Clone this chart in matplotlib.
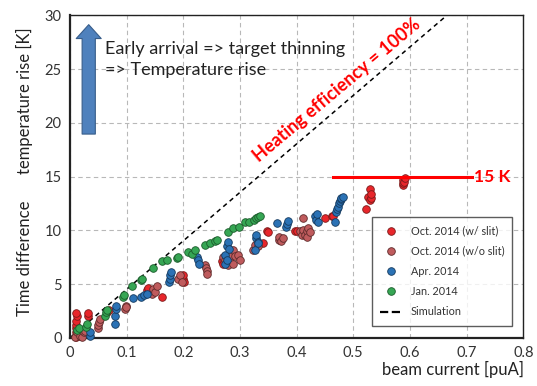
import matplotlib
matplotlib.use("Agg")
import matplotlib.pyplot as plt
from matplotlib.lines import Line2D

plt.rcParams['font.family'] = ['Lato', 'DejaVu Sans']

# Oct. 2014 (w/ slit)
oct_slit_x = [0.010, 0.010, 0.010, 0.010, 0.011, 0.012, 0.011, 0.031, 0.032, 0.066,
              0.068, 0.135, 0.137, 0.162, 0.197, 0.200, 0.201, 0.199, 0.268, 0.270,
              0.341, 0.347, 0.350, 0.397, 0.401, 0.450, 0.463, 0.465, 0.522, 0.526,
              0.529, 0.529, 0.531, 0.532, 0.587, 0.588, 0.588, 0.590, 0.591]
oct_slit_y = [0.1, 0.5, 0.9, 1.2, 1.6, 2.0, 2.3, 2.0, 2.3, 2.4,
              2.6, 4.4, 4.6, 3.8, 5.4, 5.5, 5.2, 5.8, 7.1, 6.9,
              8.8, 9.9, 9.8, 9.9, 9.9, 11.1, 11.3, 11.3, 12.0, 13.1,
              12.8, 13.8, 13.0, 13.4, 14.2, 14.4, 14.7, 14.5, 14.9]

# Oct. 2014 (w/o slit)
oct_noslit_x = [0.009, 0.013, 0.018, 0.021, 0.024, 0.026, 0.050, 0.050, 0.051, 0.053,
                0.097, 0.098, 0.099, 0.144, 0.147, 0.150, 0.153, 0.191, 0.194, 0.197,
                0.238, 0.240, 0.241, 0.242, 0.270, 0.274, 0.279, 0.282, 0.285, 0.288,
                0.288, 0.291, 0.297, 0.300, 0.323, 0.326, 0.332, 0.368, 0.369, 0.372,
                0.376, 0.406, 0.409, 0.412, 0.412, 0.415, 0.418, 0.418, 0.420, 0.424]
oct_noslit_y = [0.1, 0.5, 0.2, 0.1, 0.5, 0.6, 0.9, 1.2, 1.5, 1.7,
                2.7, 3.0, 2.9, 4.1, 4.5, 4.3, 4.8, 5.5, 5.8, 5.2,
                6.8, 6.5, 6.2, 5.9, 7.5, 7.2, 6.8, 7.4, 7.7, 6.9,
                8.2, 7.6, 7.7, 7.2, 8.2, 8.6, 8.5, 9.1, 9.4, 9.0,
                9.3, 9.9, 9.6, 10.0, 11.1, 9.6, 9.9, 9.4, 10.2, 9.8]

# Apr. 2014
apr_x = [0.035, 0.036, 0.079, 0.080, 0.081, 0.082, 0.112, 0.126, 0.131, 0.135,
         0.175, 0.176, 0.177, 0.178, 0.225, 0.226, 0.228, 0.274, 0.274, 0.277,
         0.277, 0.279, 0.281, 0.326, 0.328, 0.329, 0.331, 0.332, 0.365, 0.382,
         0.383, 0.384, 0.433, 0.435, 0.436, 0.438, 0.468, 0.470, 0.471, 0.473,
         0.475, 0.476, 0.478, 0.479, 0.482]
apr_y = [0.2, 0.5, 1.3, 2.0, 2.7, 3.0, 3.7, 3.8, 4.0, 4.1,
         5.2, 5.5, 5.8, 6.1, 7.5, 7.2, 6.9, 6.9, 7.7, 7.2,
         8.5, 8.9, 8.3, 8.2, 9.3, 9.6, 8.9, 8.8, 10.7, 10.3,
         10.6, 10.9, 11.3, 11.0, 11.5, 10.8, 10.8, 11.7, 12.0, 12.2,
         12.5, 12.7, 12.9, 13.0, 13.1]

# Jan. 2014
jan_x = [0.012, 0.016, 0.028, 0.030, 0.062, 0.064, 0.066, 0.094, 0.096, 0.109,
         0.125, 0.127, 0.147, 0.162, 0.172, 0.188, 0.190, 0.209, 0.215, 0.220,
         0.238, 0.247, 0.256, 0.260, 0.279, 0.288, 0.299, 0.309, 0.316, 0.324,
         0.328, 0.332, 0.335]
jan_y = [0.7, 0.9, 1.0, 1.3, 2.0, 2.4, 2.6, 3.8, 4.0, 4.8,
         5.4, 5.5, 6.5, 7.1, 7.2, 7.4, 7.5, 8.0, 7.8, 8.2,
         8.6, 8.8, 9.0, 9.1, 9.8, 10.2, 10.3, 10.8, 10.8, 11.0,
         11.1, 11.2, 11.3]

# Simulation (heating efficiency = 100%)
sim_x = [0.0, 0.665]
sim_y = [0.0, 30.0]

x_ticks = [0, 0.1, 0.2, 0.3, 0.4, 0.5, 0.6, 0.7, 0.8]
y_ticks = [0, 5, 10, 15, 20, 25, 30]
limit_level = 15.0
limit_x = [0.465, 0.709]

fig = plt.figure(figsize=(5.37, 3.86), dpi=100)
ax = fig.add_axes([0.1304, 0.125, 0.844, 0.835])

series = [
    (oct_slit_x, oct_slit_y, '#e8262b', '#7a1a1a', 'Oct. 2014 (w/ slit)'),
    (oct_noslit_x, oct_noslit_y, '#bf5b5d', '#5e2a2a', 'Oct. 2014 (w/o slit)'),
    (apr_x, apr_y, '#2b72b5', '#153a5e', 'Apr. 2014'),
    (jan_x, jan_y, '#36a654', '#1a5a2a', 'Jan. 2014'),
]
handles = []
for xs, ys, fc, ec, lab in series:
    ax.scatter(xs, ys, s=30, c=fc, edgecolors=ec, linewidths=0.6, zorder=3, clip_on=False)
    handles.append(Line2D([], [], ls='none', marker='o', markersize=5.5,
                          markerfacecolor=fc, markeredgecolor=ec, markeredgewidth=0.6,
                          label=lab))

ax.plot(sim_x, sim_y, ls=(0, (3, 2.5)), color='black', lw=1.1, zorder=2)
handles.append(Line2D([], [], ls='--', color='black', lw=1.6, label='Simulation'))

ax.set_xlim(0, 0.8)
ax.set_ylim(0, 30)
ax.set_xticks(x_ticks)
ax.set_xticklabels(['0', '0.1', '0.2', '0.3', '0.4', '0.5', '0.6', '0.7', '0.8'])
ax.set_yticks(y_ticks)
ax.tick_params(axis='both', labelsize=10.5, colors='#333333', length=0, pad=6)
ax.grid(True, ls=(0, (4, 3)), color='#b8b8b8', lw=0.8)
ax.set_axisbelow(True)
for side in ['top', 'right']:
    ax.spines[side].set_linewidth(1.0)
    ax.spines[side].set_color('#222222')
for side in ['left', 'bottom']:
    ax.spines[side].set_linewidth(1.6)
    ax.spines[side].set_color('#222222')

# 15 K limit line
ax.plot(limit_x, [limit_level, limit_level], color='#ff0000', lw=2.2, zorder=4)
ax.text(0.713, limit_level, '15 K', color='#ff0000', fontsize=12.5,
        fontweight='bold', va='center', ha='left')

ax.text(0.471, 23.0, 'Heating efficiency = 100%', color='#ff0000', fontsize=13,
        fontweight='bold', rotation=40, rotation_mode='anchor',
        ha='center', va='center')

# annotation arrow and text
ax.annotate('', xy=(0.033, 29.4), xytext=(0.033, 18.7),
            arrowprops=dict(arrowstyle='simple,head_length=1.0,head_width=1.8,tail_width=0.95',
                            fc='#4f81bd', ec='#385d8a', lw=0.8, mutation_scale=10))
ax.text(0.062, 25.9, 'Early arrival => target thinning\n=> Temperature rise',
        fontsize=13, color='#222222', ha='left', va='center', linespacing=1.35)

leg = ax.legend(handles=handles, loc='lower right', bbox_to_anchor=(0.976, 0.038),
                fontsize=7.8, frameon=True, fancybox=False, edgecolor='#333333',
                labelspacing=0.85, handlelength=2.0, borderpad=0.75, handletextpad=0.8,
                borderaxespad=0)
leg.get_frame().set_linewidth(1.0)
for t in leg.get_texts():
    t.set_color('#333333')

fig.text(0.975, 0.022, 'beam current [puA]', fontsize=12, color='#222222',
         ha='right', va='bottom')
fig.text(0.046, 0.33, 'Time difference', fontsize=12, color='#222222',
         rotation=90, ha='center', va='center')
fig.text(0.046, 0.74, 'temperature rise [K]', fontsize=12, color='#222222',
         rotation=90, ha='center', va='center')

fig.savefig('out.png', dpi=100)
